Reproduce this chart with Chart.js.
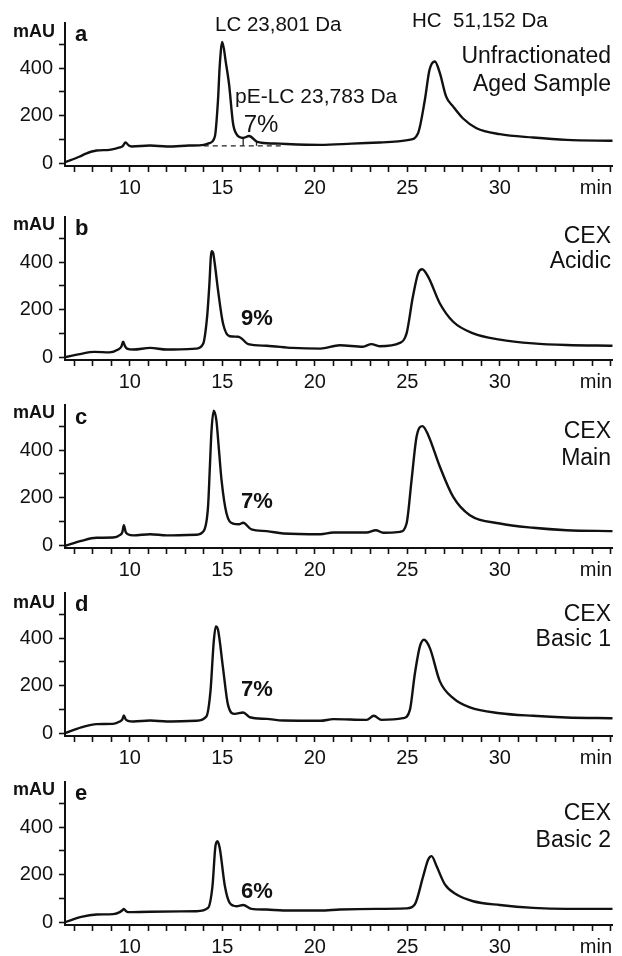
<!DOCTYPE html>
<html>
<head>
<meta charset="utf-8">
<script src="https://cdn.jsdelivr.net/npm/chart.js@4.4.1/dist/chart.umd.min.js"></script>
<style>
    html, body { margin: 0; padding: 0; background: #fff; }
    body { width: 622px; height: 956px; position: relative; overflow: hidden; }
    canvas { position: absolute; left: 0; }
</style>
</head>
<body>
<canvas id="pa" width="622" height="200" style="top:3px"></canvas>
<canvas id="pb" width="622" height="200" style="top:197px"></canvas>
<canvas id="pc" width="622" height="200" style="top:385px"></canvas>
<canvas id="pd" width="622" height="200" style="top:573px"></canvas>
<canvas id="pe" width="622" height="200" style="top:762px"></canvas>
<script>
// tick values (min, mAU)
const xTicks = [7, 8, 9, 10, 11, 12, 13, 14, 15, 16, 17, 18, 19, 20, 21, 22, 23, 24, 25, 26, 27, 28, 29, 30, 31, 32, 33, 34, 35, 36];
const xLabelled = [10, 15, 20, 25, 30];
const yTicks = [0, 100, 200, 300, 400, 500];
const yLabelled = [0, 200, 400];

// a: unfractionated aged sample
const aTime = [6.5, 7.3, 7.6, 8.2, 8.9, 9.46, 9.62, 9.77, 9.95, 10.1, 11.1, 12.0, 13.2, 14.0, 14.3, 14.6, 14.77, 14.86, 15.0, 15.2, 15.37, 15.58, 15.77, 16.13, 16.45, 16.85, 17.1, 18.1, 20.3, 22.0, 23.5, 25.1, 25.58, 25.95, 26.2, 26.49, 26.76, 27.1, 27.48, 28.0, 28.74, 30.0, 31.8, 33.6, 36.1];
const aSignal = [4, 28, 39, 53, 56, 66, 72, 87, 74, 70, 74, 70, 74, 77, 84, 112, 267, 407, 510, 420, 330, 168, 122, 106, 114, 91, 86, 82, 77, 82, 87, 98, 126, 267, 393, 428, 379, 280, 238, 189, 147, 122, 108, 98, 94];
// a: integration baseline and drop lines of the pE-LC peak
const aBaseTime = [14.0, 18.2];
const aBaseValue = [73, 73];
const aDrops = [[16.13, 106], [16.85, 91]];

// b: CEX acidic
const bTime = [6.5, 7.3, 8.1, 8.9, 9.37, 9.55, 9.64, 9.75, 9.85, 10.2, 11.1, 12.0, 13.6, 13.96, 14.18, 14.29, 14.42, 14.5, 14.6, 14.77, 15.04, 15.4, 15.86, 16.04, 16.4, 17.4, 18.8, 20.3, 21.35, 22.6, 23.06, 23.5, 24.6, 24.96, 25.3, 25.58, 25.8, 26.13, 26.76, 27.48, 28.56, 30.0, 31.8, 33.6, 36.1];
const bSignal = [0, 13, 22, 20, 32, 45, 65, 45, 36, 32, 39, 32, 36, 55, 170, 290, 446, 440, 390, 282, 142, 88, 86, 79, 55, 48, 39, 36, 50, 44, 55, 46, 60, 100, 254, 352, 370, 338, 226, 149, 100, 74, 58, 51, 48];

// c: CEX main
const cTime = [6.5, 7.38, 8.2, 9.1, 9.46, 9.6, 9.68, 9.78, 9.9, 10.2, 11.1, 12.0, 13.6, 14.0, 14.23, 14.33, 14.42, 14.54, 14.68, 14.8, 14.96, 15.23, 15.58, 15.9, 16.13, 16.58, 17.4, 18.3, 20.3, 21.0, 22.8, 23.3, 23.7, 24.6, 24.96, 25.23, 25.5, 25.82, 26.13, 26.76, 27.48, 28.38, 30.0, 31.8, 33.6, 36.1];
const cSignal = [-3, 18, 31, 32, 42, 55, 84, 55, 46, 41, 46, 41, 44, 60, 161, 330, 484, 566, 526, 420, 274, 133, 91, 88, 94, 66, 59, 49, 46, 53, 53, 63, 52, 56, 91, 274, 456, 501, 463, 330, 203, 126, 91, 73, 63, 59];

// d: CEX basic 1
const dTime = [6.5, 7.38, 8.2, 9.1, 9.46, 9.6, 9.68, 9.78, 9.9, 10.2, 11.1, 12.0, 13.6, 14.14, 14.36, 14.54, 14.65, 14.77, 15.04, 15.31, 15.68, 16.13, 16.49, 17.4, 18.3, 20.3, 21.0, 22.8, 23.19, 23.6, 24.77, 25.14, 25.4, 25.68, 25.9, 26.22, 26.76, 27.48, 28.38, 30.0, 31.8, 33.6, 36.1];
const dSignal = [0, 24, 38, 39, 49, 58, 74, 58, 52, 49, 53, 49, 52, 70, 175, 386, 449, 435, 274, 119, 81, 87, 67, 60, 53, 52, 59, 56, 73, 56, 63, 98, 246, 365, 393, 358, 218, 147, 108, 84, 73, 66, 63];

// e: CEX basic 2
const eTime = [6.5, 7.38, 8.2, 9.1, 9.46, 9.6, 9.68, 9.78, 9.9, 11.1, 13.6, 14.23, 14.47, 14.63, 14.74, 14.86, 15.14, 15.4, 15.77, 16.13, 16.58, 17.4, 18.3, 20.3, 21.35, 23.33, 24.96, 25.4, 25.86, 26.13, 26.31, 26.58, 27.03, 27.66, 28.56, 30.0, 31.8, 33.6, 36.1];
const eSignal = [0, 22, 32, 34, 42, 50, 56, 48, 42, 44, 46, 60, 152, 320, 341, 313, 152, 81, 67, 72, 56, 53, 49, 49, 53, 56, 58, 74, 194, 264, 278, 236, 159, 116, 88, 72, 60, 56, 56];

const FONT = '"Liberation Sans", Arial, Helvetica, sans-serif';

function pts(xs, ys) {
    return xs.map((x, i) => ({ x: x, y: ys[i] }));
}

// common texts of every panel; dy is measured from the top of the plot area
function frameTexts(letter, mauDy, letterDy) {
    return [
        { text: 'mAU', x: 55, dy: mauDy, align: 'right', font: 'bold 18px ' + FONT },
        { text: letter, x: 75, dy: letterDy, align: 'left', font: 'bold 22px ' + FONT },
        { text: 'min', x: 612, dy: 165, align: 'right', font: '20px ' + FONT }
    ];
}

const panels = [
    {
        id: 'pa', time: aTime, signal: aSignal,
        texts: frameTexts('a', 9, 12).concat([
            { text: 'LC 23,801 Da', x: 215, dy: 2, align: 'left', font: '20.5px ' + FONT },
            { text: 'HC  51,152 Da', x: 412, dy: -2, align: 'left', font: '20.5px ' + FONT },
            { text: 'pE-LC 23,783 Da', x: 235, dy: 74, align: 'left', font: '21px ' + FONT },
            { text: '7%', x: 261, dy: 102, align: 'center', font: '24px ' + FONT },
            { text: 'Unfractionated', x: 611, dy: 34, align: 'right', font: '23px ' + FONT },
            { text: 'Aged Sample', x: 611, dy: 62, align: 'right', font: '23px ' + FONT }
        ])
    },
    {
        id: 'pb', time: bTime, signal: bSignal,
        texts: frameTexts('b', 8, 12).concat([
            { text: '9%', x: 257, dy: 102, align: 'center', font: 'bold 22px ' + FONT },
            { text: 'CEX', x: 611, dy: 20, align: 'right', font: '23px ' + FONT },
            { text: 'Acidic', x: 611, dy: 45, align: 'right', font: '23px ' + FONT }
        ])
    },
    {
        id: 'pc', time: cTime, signal: cSignal,
        texts: frameTexts('c', 8, 13).concat([
            { text: '7%', x: 257, dy: 97, align: 'center', font: 'bold 22px ' + FONT },
            { text: 'CEX', x: 611, dy: 27, align: 'right', font: '23px ' + FONT },
            { text: 'Main', x: 611, dy: 54, align: 'right', font: '23px ' + FONT }
        ])
    },
    {
        id: 'pd', time: dTime, signal: dSignal,
        texts: frameTexts('d', 10, 12).concat([
            { text: '7%', x: 257, dy: 97, align: 'center', font: 'bold 22px ' + FONT },
            { text: 'CEX', x: 611, dy: 22, align: 'right', font: '23px ' + FONT },
            { text: 'Basic 1', x: 611, dy: 47, align: 'right', font: '23px ' + FONT }
        ])
    },
    {
        id: 'pe', time: eTime, signal: eSignal,
        texts: frameTexts('e', 8, 12).concat([
            { text: '6%', x: 257, dy: 110, align: 'center', font: 'bold 22px ' + FONT },
            { text: 'CEX', x: 611, dy: 32, align: 'right', font: '23px ' + FONT },
            { text: 'Basic 2', x: 611, dy: 59, align: 'right', font: '23px ' + FONT }
        ])
    }
];

// draws the labels of a panel on top of the chart
const panelTextPlugin = {
    id: 'panelText',
    afterDraw(chart, args, opts) {
        const ctx = chart.ctx;
        const top = chart.chartArea.top;
        ctx.save();
        ctx.fillStyle = '#111';
        ctx.textBaseline = 'middle';
        (opts.items || []).forEach(t => {
            ctx.font = t.font;
            ctx.textAlign = t.align;
            ctx.fillText(t.text, t.x, top + t.dy);
        });
        ctx.restore();
    }
};

function createPanel(p) {
    const datasets = [{
        data: pts(p.time, p.signal),
        borderColor: '#111',
        borderWidth: 2.4,
        pointRadius: 0,
        cubicInterpolationMode: 'monotone',
        fill: false
    }];

    // extra marks only in panel a
    if (p.id === 'pa') {
        datasets.push({
            data: pts(aBaseTime, aBaseValue),
            borderColor: '#222',
            borderWidth: 1.3,
            borderDash: [5, 4],
            pointRadius: 0
        });
        aDrops.forEach(d => {
            datasets.push({
                data: pts([d[0], d[0]], [d[1], aBaseValue[0]]),
                borderColor: '#222',
                borderWidth: 1.3,
                pointRadius: 0
            });
        });
    }

    const axisGrid = {
        display: true,
        drawOnChartArea: false,
        drawTicks: true,
        tickLength: 6,
        tickWidth: 1.6,
        tickColor: '#111'
    };

    return new Chart(document.getElementById(p.id), {
        type: 'line',
        data: { datasets: datasets },
        options: {
            responsive: false,
            animation: false,
            layout: { padding: { top: 20, right: 9.3, left: 0, bottom: 0 } },
            plugins: {
                legend: { display: false },
                tooltip: { enabled: false },
                panelText: { items: p.texts }
            },
            scales: {
                x: {
                    type: 'linear',
                    min: 6.5,
                    max: 36.1,
                    afterBuildTicks: s => { s.ticks = xTicks.map(v => ({ value: v })); },
                    afterFit: s => { s.height = 37; },
                    ticks: {
                        autoSkip: false,
                        maxRotation: 0,
                        padding: 4,
                        color: '#111',
                        font: { family: FONT, size: 20 },
                        callback: v => xLabelled.includes(v) ? String(v) : ''
                    },
                    grid: axisGrid,
                    border: { display: true, color: '#111', width: 2 }
                },
                y: {
                    min: -12,
                    max: 590,
                    afterBuildTicks: s => { s.ticks = yTicks.map(v => ({ value: v })); },
                    afterFit: s => { s.width = 65; },
                    ticks: {
                        padding: 6,
                        color: '#111',
                        font: { family: FONT, size: 20 },
                        callback: v => yLabelled.includes(v) ? String(v) : ''
                    },
                    grid: axisGrid,
                    border: { display: true, color: '#111', width: 2 }
                }
            }
        },
        plugins: [panelTextPlugin]
    });
}

panels.forEach(createPanel);
</script>
</body>
</html>
